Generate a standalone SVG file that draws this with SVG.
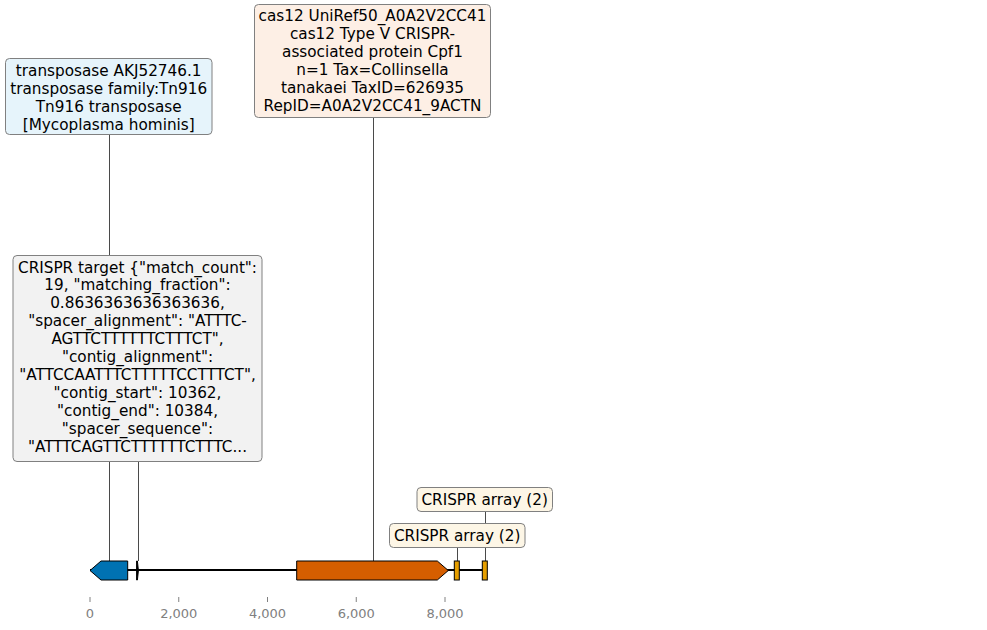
<svg xmlns="http://www.w3.org/2000/svg" width="987" height="630" viewBox="0 0 987 630">
<style>
text{font-family:"DejaVu Sans","Liberation Sans",sans-serif}
.lbl{font-size:15.25px;fill:#000;text-anchor:middle}
.box{stroke:#808080;stroke-width:1}
.conn{stroke:#4a4a4a;stroke-width:1;fill:none}
.feat{stroke:#000;stroke-width:1}
.tick{stroke:#808080;stroke-width:1}
.tl{font-size:13px;fill:#808080;text-anchor:middle}
</style>
<rect width="987" height="630" fill="#fff"/>
<g id="connectors">
<line class="conn" x1="109.5" y1="134" x2="109.5" y2="561"/>
<line class="conn" x1="373.5" y1="117" x2="373.5" y2="561"/>
<line class="conn" x1="138.5" y1="461" x2="138.5" y2="561"/>
<line class="conn" x1="457.5" y1="547" x2="457.5" y2="561"/>
<line class="conn" x1="485.5" y1="511" x2="485.5" y2="561"/>
</g>
<g id="track">
<line x1="90" y1="570" x2="486" y2="570" stroke="#000" stroke-width="2"/>
</g>
<g id="feature-transposase">
<polygon class="feat" fill="#0072b2" points="90,570.5 101,561 127.7,561 127.7,580 101,580"/>
</g>
<g id="feature-crispr-target">
<polygon class="feat" fill="#000" points="136.6,561 137.4,561 138.4,570.5 137.4,580 136.6,580"/>
</g>
<g id="feature-cas12">
<polygon class="feat" fill="#d55e00" points="296.7,561 437.3,561 448.3,570.5 437.3,580 296.7,580"/>
</g>
<g id="feature-crispr-array-1">
<rect class="feat" fill="#e69f00" x="454.3" y="561" width="5" height="19"/>
</g>
<g id="feature-crispr-array-2">
<rect class="feat" fill="#e69f00" x="482.3" y="561" width="5" height="19"/>
</g>
<g id="axis">
<line class="tick" x1="90" y1="597" x2="90" y2="602"/>
<line class="tick" x1="178.75" y1="597" x2="178.75" y2="602"/>
<line class="tick" x1="267.5" y1="597" x2="267.5" y2="602"/>
<line class="tick" x1="356.25" y1="597" x2="356.25" y2="602"/>
<line class="tick" x1="445" y1="597" x2="445" y2="602"/>
<text class="tl" x="90" y="617.5">0</text>
<text class="tl" x="178.75" y="617.5">2,000</text>
<text class="tl" x="267.5" y="617.5">4,000</text>
<text class="tl" x="356.25" y="617.5">6,000</text>
<text class="tl" x="445" y="617.5">8,000</text>
</g>
<g id="label-transposase">
<rect class="box" fill="#e6f4fb" x="5.5" y="58.5" width="206.5" height="76" rx="4"/>
<text class="lbl" x="108.7" y="75.5">transposase AKJ52746.1</text>
<text class="lbl" x="108.7" y="93.5">transposase family:Tn916</text>
<text class="lbl" x="108.7" y="111.5">Tn916 transposase</text>
<text class="lbl" x="108.7" y="129.5">[Mycoplasma hominis]</text>
</g>
<g id="label-cas12">
<rect class="box" fill="#fdefe5" x="254.5" y="4.5" width="236" height="113" rx="4"/>
<text class="lbl" x="372.5" y="20.5">cas12 UniRef50_A0A2V2CC41</text>
<text class="lbl" x="372.5" y="38.5">cas12 Type V CRISPR-</text>
<text class="lbl" x="372.5" y="56.5">associated protein Cpf1</text>
<text class="lbl" x="372.5" y="74.5">n=1 Tax=Collinsella</text>
<text class="lbl" x="372.5" y="92.5">tanakaei TaxID=626935</text>
<text class="lbl" x="372.5" y="110.5">RepID=A0A2V2CC41_9ACTN</text>
</g>
<g id="label-crispr-target">
<rect class="box" fill="#f2f2f2" x="13" y="255.5" width="249" height="206" rx="4"/>
<text class="lbl" x="137.5" y="272.5">CRISPR target {"match_count":</text>
<text class="lbl" x="137.5" y="290.4">19, "matching_fraction":</text>
<text class="lbl" x="137.5" y="308.3">0.8636363636363636,</text>
<text class="lbl" x="137.5" y="326.2">"spacer_alignment": "ATTTC-</text>
<text class="lbl" x="137.5" y="344.1">AGTTCTTTTTTCTTTCT",</text>
<text class="lbl" x="137.5" y="362">"contig_alignment":</text>
<text class="lbl" x="137.5" y="379.9">"ATTCCAATTTCTTTTTCCTTTCT",</text>
<text class="lbl" x="137.5" y="397.8">"contig_start": 10362,</text>
<text class="lbl" x="137.5" y="415.7">"contig_end": 10384,</text>
<text class="lbl" x="137.5" y="433.6">"spacer_sequence":</text>
<text class="lbl" x="137.5" y="451.5">"ATTTCAGTTCTTTTTTCTTTC...</text>
</g>
<g id="label-crispr-array-2">
<rect class="box" fill="#fdf6e6" x="417" y="487.5" width="135.5" height="24" rx="4"/>
<text class="lbl" x="484.7" y="505">CRISPR array (2)</text>
</g>
<g id="label-crispr-array-1">
<rect class="box" fill="#fdf6e6" x="389.5" y="523.5" width="135.5" height="24" rx="4"/>
<text class="lbl" x="457.2" y="541">CRISPR array (2)</text>
</g>
</svg>
